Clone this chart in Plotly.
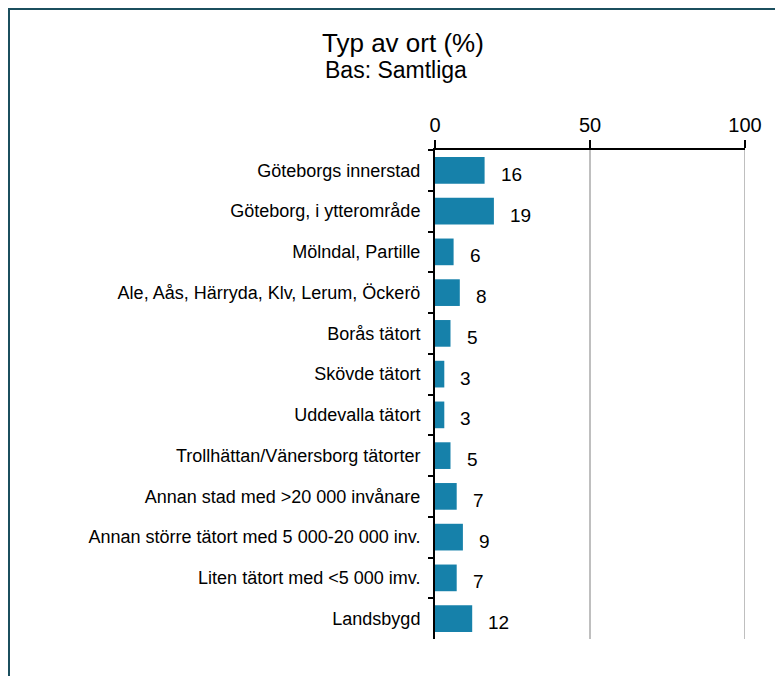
import plotly.graph_objects as go

categories = [
    "Göteborgs innerstad",
    "Göteborg, i ytterområde",
    "Mölndal, Partille",
    "Ale, Aås, Härryda, Klv, Lerum, Öckerö",
    "Borås tätort",
    "Skövde tätort",
    "Uddevalla tätort",
    "Trollhättan/Vänersborg tätorter",
    "Annan stad med >20 000 invånare",
    "Annan större tätort med 5 000-20 000 inv.",
    "Liten tätort med <5 000 imv.",
    "Landsbygd",
]
values = [16, 19, 6, 8, 5, 3, 3, 5, 7, 9, 7, 12]
tick_vals = [0, 50, 100]
title_text = "Typ av ort (%)"
subtitle_text = "Bas: Samtliga"

# page is offset by the default 8px body margin
OFF = 8
W, H = 783 - OFF, 676 - OFF
ML, MR, MT, MB = 435 - OFF, 38, 150 - OFF, 37
PW, PH = W - ML - MR, H - MT - MB

def px(x):
    return (x - OFF - ML) / PW

def py(y):
    return (H - MB - (y - OFF)) / PH

FONT = "Liberation Sans, Arial, sans-serif"
BAR = "#1681aa"
GRID = "#bfbfbf"

fig = go.Figure()
fig.add_trace(go.Bar(
    y=categories, x=values, orientation="h",
    marker=dict(color=BAR, line=dict(width=0)),
    hoverinfo="skip",
))

annotations = []
for c, v in zip(categories, values):
    annotations.append(dict(
        x=v, y=c, xref="x", yref="y", text=str(v), showarrow=False,
        xanchor="left", yanchor="middle", xshift=14, yshift=-4,
        font=dict(family=FONT, size=19, color="#000000"),
    ))
annotations.append(dict(
    x=px(403), y=py(43), xref="paper", yref="paper", text=title_text,
    showarrow=False, xanchor="center", yanchor="middle",
    font=dict(family=FONT, size=26, color="#000000"),
))
annotations.append(dict(
    x=px(396), y=py(70), xref="paper", yref="paper", text=subtitle_text,
    showarrow=False, xanchor="center", yanchor="middle",
    font=dict(family=FONT, size=23, color="#000000"),
))

shapes = [dict(
    type="rect", xref="paper", yref="paper",
    x0=px(9), x1=px(800), y0=py(700), y1=py(9),
    line=dict(color="#1b4f5e", width=2), fillcolor="rgba(0,0,0,0)",
    layer="below",
)]
# gridline at the range end (plotly drops the edge gridline)
shapes.append(dict(
    type="line", xref="x", yref="paper",
    x0=tick_vals[-1], x1=tick_vals[-1], y0=0, y1=1,
    line=dict(color=GRID, width=2), layer="below",
))

fig.update_layout(
    width=W, height=H,
    margin=dict(l=ML, r=MR, t=MT, b=MB, pad=0),
    paper_bgcolor="#ffffff", plot_bgcolor="#ffffff",
    showlegend=False, bargap=0.345,
    annotations=annotations,
    shapes=shapes,
    xaxis=dict(
        side="top", range=[0, tick_vals[-1]], tickvals=tick_vals,
        showgrid=True, gridcolor=GRID, gridwidth=2,
        zeroline=False, showline=True, linecolor="#000000", linewidth=2,
        ticks="outside", ticklen=8, tickwidth=2, tickcolor="#000000",
        tickfont=dict(family=FONT, size=20, color="#000000"),
        fixedrange=True,
    ),
    yaxis=dict(
        autorange="reversed", type="category",
        showgrid=False, zeroline=False,
        showline=True, linecolor="#000000", linewidth=2,
        ticks="outside", tickson="boundaries", ticklen=5, tickwidth=2,
        tickcolor="#000000",
        tickfont=dict(family=FONT, size=18, color="#000000"),
        ticklabelstandoff=9,
        fixedrange=True,
    ),
)

fig.write_html("out.html")
